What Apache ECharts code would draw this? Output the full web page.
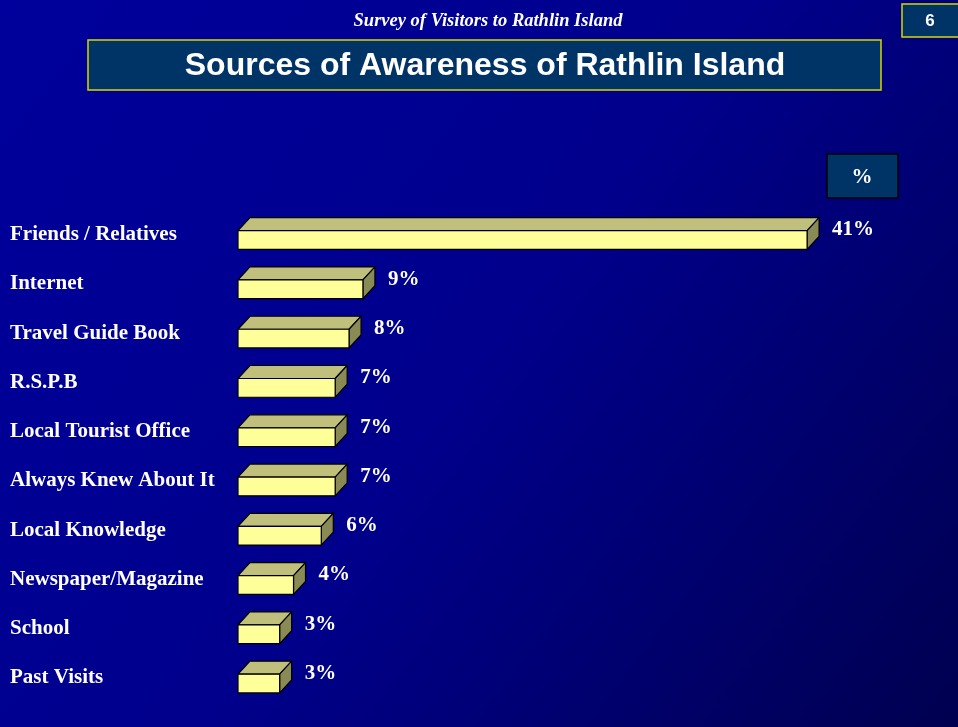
<!DOCTYPE html>
<html>
<head>
<meta charset="utf-8">
<script src="https://cdn.jsdelivr.net/npm/echarts@6/dist/echarts.min.js"></script>
<style>
html,body{margin:0;padding:0;background:#000090;}
#chart{width:958px;height:727px;}
</style>
</head>
<body>
<div id="chart"></div>
<script>
const categories = ["Friends / Relatives","Internet","Travel Guide Book","R.S.P.B","Local Tourist Office","Always Knew About It","Local Knowledge","Newspaper/Magazine","School","Past Visits"];
const values = [41, 9, 8, 7, 7, 7, 6, 4, 3, 3];
const headerText = "Survey of Visitors to Rathlin Island";
const titleText = "Sources of Awareness of Rathlin Island";
const pageNumber = "6";
const unitLabel = "%";

const chart = echarts.init(document.getElementById('chart'), null, {renderer: 'canvas'});
const serif = '"Liberation Serif","Times New Roman",serif';
const sans = '"Liberation Sans",Arial,sans-serif';

function renderBar(params, api) {
  const v = api.value(0);
  const cat = api.value(1);
  const p0 = api.coord([0, cat]);
  const p1 = api.coord([v, cat]);
  const band = api.size([0, 1])[1];
  const bh = band * 0.38;
  const d = 12, dy = 13;
  const x0 = p0[0], x1 = p1[0];
  const yT = p1[1] - bh / 2, yB = p1[1] + bh / 2;
  const line = {stroke: '#000000', lineWidth: 1.2};
  return {
    type: 'group',
    children: [
      {type: 'polygon', shape: {points: [[x0, yT], [x0 + d, yT - dy], [x1 + d, yT - dy], [x1, yT]]},
        style: Object.assign({fill: '#C0C07C'}, line)},
      {type: 'polygon', shape: {points: [[x1, yT], [x1 + d, yT - dy], [x1 + d, yB - dy], [x1, yB]]},
        style: Object.assign({fill: '#8A8A56'}, line)},
      {type: 'rect', shape: {x: x0, y: yT, width: x1 - x0, height: bh},
        style: Object.assign({fill: '#FFFF99'}, line)},
      {type: 'text', x: x1 + 25, y: p1[1] - 10,
        style: {text: v + '%', fill: '#FFFFFF', font: 'bold 21px ' + serif, verticalAlign: 'middle', align: 'left'}}
    ]
  };
}

const option = {
  backgroundColor: {
    type: 'linear', x: 0, y: 0, x2: 1, y2: 1,
    colorStops: [
      {offset: 0, color: '#00009C'},
      {offset: 0.5, color: '#00008C'},
      {offset: 1, color: '#000050'}
    ]
  },
  animation: false,
  grid: {left: 238, right: 26, top: 215.4, bottom: 18.8, containLabel: false},
  xAxis: {type: 'value', min: 0, max: 50, show: false},
  yAxis: {
    type: 'category', inverse: true, data: categories,
    axisLine: {show: false}, axisTick: {show: false}, splitLine: {show: false},
    axisLabel: {
      align: 'left', margin: 228,
      formatter: function (v) { return '{a|' + v + '}'; },
      rich: {
        a: {color: '#FFFFFF', fontFamily: serif, fontWeight: 'bold', fontSize: 21, padding: [0, 0, 11, 0]}
      }
    }
  },
  series: [{
    type: 'custom',
    renderItem: renderBar,
    encode: {x: 0, y: 1},
    data: values.map((v, i) => [v, i]),
    clip: false
  }],
  graphic: [
    {type: 'text', x: 488, y: 21, z: 10,
      style: {text: headerText, fill: '#FFFFFF', font: 'italic bold 18.5px ' + serif, align: 'center', verticalAlign: 'middle'}},
    {type: 'rect', x: 902, y: 4, z: 10,
      shape: {width: 60, height: 33},
      style: {fill: '#003366', stroke: '#D8D800', lineWidth: 1.5}},
    {type: 'text', x: 930, y: 21, z: 11,
      style: {text: pageNumber, fill: '#FFFFFF', font: 'bold 17px ' + sans, align: 'center', verticalAlign: 'middle'}},
    {type: 'rect', x: 88, y: 40, z: 10,
      shape: {width: 793, height: 50},
      style: {fill: '#003366', stroke: '#D8D800', lineWidth: 1.5}},
    {type: 'text', x: 485, y: 66, z: 11,
      style: {text: titleText, fill: '#FFFFFF', font: 'bold 32px ' + sans, align: 'center', verticalAlign: 'middle'}},
    {type: 'rect', x: 827, y: 154, z: 10,
      shape: {width: 71, height: 44},
      style: {fill: '#003366', stroke: '#000000', lineWidth: 1.5}},
    {type: 'text', x: 862, y: 178, z: 11,
      style: {text: unitLabel, fill: '#FFFFFF', font: 'bold 21px ' + serif, align: 'center', verticalAlign: 'middle'}}
  ]
};
chart.setOption(option);
</script>
</body>
</html>
